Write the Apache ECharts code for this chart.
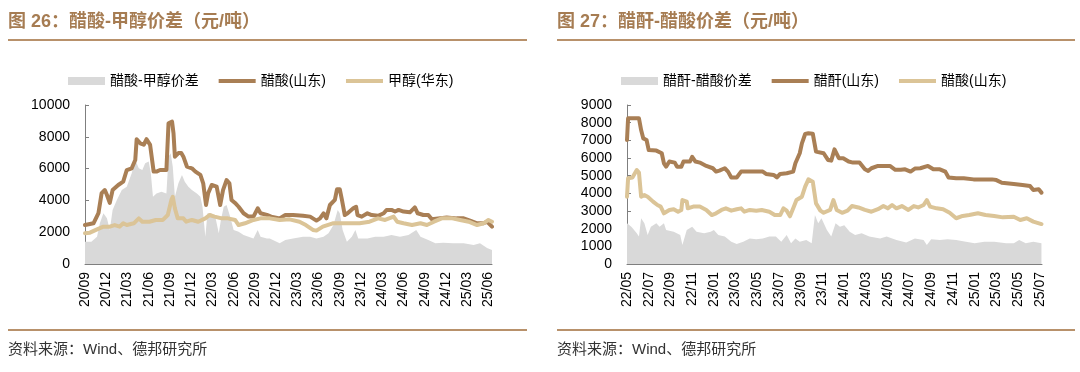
<!DOCTYPE html>
<html><head><meta charset="utf-8">
<script src="https://cdn.jsdelivr.net/npm/echarts@6/dist/echarts.min.js"></script>
<style>html,body{margin:0;padding:0;background:#fff}#c{width:1080px;height:372px}</style>
</head><body><div id="c"></div>
<script>
// ---------- Left chart (图26): x = months since 2020/09 ----------
const leftTickLabels = ['20/09','20/12','21/03','21/06','21/09','21/12','22/03','22/06','22/09','22/12','23/03','23/06','23/09','23/12','24/03','24/06','24/09','24/12','25/03','25/06'];
const leftAcidX = [0,1.2,1.9,2.35,2.8,3.1,3.5,3.9,4.7,5.4,5.9,6.6,7.1,7.3,7.8,8.3,8.7,9.2,9.7,10.1,10.6,11.5,11.8,12.3,12.5,12.7,13.2,13.6,13.9,14.4,15.1,15.6,16.3,16.7,17.1,17.4,17.9,18.6,19.1,19.5,20.0,20.4,20.7,21.2,21.7,22.4,23.1,23.8,24.4,24.8,25.7,26.3,27.5,28.3,29.4,30.8,31.8,32.7,33.2,33.7,34.1,34.6,35.3,35.6,36.0,36.3,36.7,37.1,37.9,38.3,38.5,39.1,39.9,40.5,41.4,42.2,42.6,43.3,43.8,44.3,45.0,45.9,46.6,47.0,47.8,48.5,49.0,49.9,51.1,52.5,53.5,54.4,55.4,56.3,56.8,57.5];
const leftAcid = [2450,2560,3200,4460,4650,4340,3840,4650,4970,5180,5910,6020,6540,7850,7590,7500,7850,7490,5810,5810,5910,5910,8850,8950,8240,6750,6980,6980,6750,6120,6020,5810,5600,5075,3710,4450,4970,4860,3710,4650,5280,5075,4030,3840,3600,3190,2980,2980,3500,3190,3090,2980,2870,3080,3080,3030,2980,2730,2870,3190,2870,3710,4030,4700,4700,4030,3080,3190,3500,3600,3080,2980,3190,3080,3030,3190,3400,3400,3300,3400,3300,3250,3560,3190,3080,3080,2810,2870,2930,2870,2870,2730,2560,2560,2660,2350];
const leftMethX = [0,0.7,1.7,2.6,3.5,4.2,4.9,5.4,5.9,6.9,7.6,8.1,9.1,10.0,11.0,11.7,12.2,12.4,12.7,13.1,13.9,14.3,15.1,16.0,17.0,17.6,18.3,19.3,20.2,21.2,21.7,22.6,23.8,24.8,26.1,27.5,28.9,30.3,31.2,32.2,32.7,33.6,35.0,36.0,37.4,38.8,40.2,41.4,42.4,43.6,44.1,45.0,46.2,47.4,48.3,49.3,50.4,51.9,53.0,54.2,55.4,56.3,57.0,57.5];
const leftMeth = [1930,1970,2180,2350,2350,2450,2350,2560,2450,2560,2870,2660,2660,2770,2770,3080,4030,4230,3500,2870,2870,2660,2770,2660,2870,3080,2980,2870,2870,2770,2450,2560,2770,2870,2870,2770,2810,2660,2450,2140,2100,2350,2560,2560,2560,2560,2660,2870,2770,2980,2660,2560,2450,2560,2450,2660,2870,2870,2770,2660,2450,2560,2770,2660];
const leftSpreadX = [0,0.9,1.7,2.1,2.6,3.1,3.5,3.9,4.5,5.2,5.9,6.6,7.1,7.6,8.1,8.5,9.0,9.3,9.6,10.1,10.8,11.5,11.8,12.1,12.4,12.7,13.2,13.7,14.1,14.6,15.1,15.8,16.3,16.6,17.0,17.3,17.8,18.4,18.9,19.2,19.6,20.0,20.5,21.0,21.7,22.4,23.1,23.8,24.4,24.8,25.7,26.1,27.5,28.3,29.4,30.8,31.8,32.7,33.7,34.4,35.1,35.7,36.0,36.4,37.0,37.7,38.2,38.6,39.9,41.0,42.2,43.3,44.5,45.7,46.8,47.4,48.5,49.5,50.6,52.0,53.5,54.9,55.8,56.8,57.5];
const leftSpread = [1400,1400,1720,2560,3190,2870,2140,3400,4030,4650,4860,5700,6540,6020,5910,6330,6440,5700,4230,4440,4550,4440,6750,6960,6120,4230,5075,5600,5180,4860,4650,4440,4230,3600,1720,3190,3190,2980,1930,2770,3600,3710,2980,2140,2030,1820,1720,1610,2140,1720,1610,1610,1300,1510,1610,1720,1720,1610,1720,1930,2450,3400,3190,2140,1400,1720,2140,1610,1610,1720,1720,1820,1720,1820,2140,1720,1510,1300,1340,1300,1300,1190,1300,1000,880];

// ---------- Right chart (图27): x = months since 2022/05 ----------
const rightTickLabels = ['22/05','22/07','22/09','22/11','23/01','23/03','23/05','23/07','23/09','23/11','24/01','24/03','24/05','24/07','24/09','24/11','25/01','25/03','25/05','25/07'];
const rightAnhX = [0,0.1,1.1,1.3,1.5,1.8,2.0,2.7,3.2,3.4,3.6,3.9,4.4,4.6,5.0,5.2,5.8,6.0,6.3,6.7,7.3,7.9,8.2,8.5,9.0,9.3,9.6,10.1,10.5,11.6,12.5,12.8,13.5,13.8,14.1,14.7,15.3,15.5,15.9,16.1,16.4,16.7,17.1,17.4,18.1,18.5,18.8,19.1,19.5,19.9,20.4,20.8,21.4,21.9,22.2,22.5,23.1,24.2,24.7,25.2,25.6,26.1,26.5,27.0,27.7,28.2,28.8,29.3,29.6,30.3,31.0,31.9,33.6,34.0,34.5,35.6,36.4,37.1,37.4,37.9,38.15];
const rightAnh = [7020,8250,8250,7580,7110,7020,6450,6420,6270,5700,5510,5800,5740,5510,5510,5800,5800,6070,5800,5740,5550,5420,5230,5290,5420,5230,4900,4900,5230,5230,5230,5100,5040,4900,5100,5140,5230,5700,6270,6830,7360,7400,7380,6360,6270,5890,5850,6490,5990,5990,5800,5740,5740,5360,5270,5420,5550,5550,5330,5330,5360,5230,5400,5420,5550,5360,5360,5230,4900,4850,4850,4790,4790,4750,4600,4530,4470,4410,4190,4230,4040];
const rightAcidX = [0,0.1,0.5,0.9,1.1,1.3,1.6,1.9,2.4,2.8,3.1,3.4,3.9,4.3,4.7,5.0,5.1,5.5,5.6,6.1,6.7,7.3,7.8,8.2,8.7,9.1,9.6,10.1,10.5,10.8,11.3,11.9,12.4,13.1,13.6,14.1,14.4,14.7,15.0,15.3,15.6,16.1,16.4,16.7,17.1,17.4,17.8,18.1,18.7,19.0,19.3,19.8,20.3,20.7,21.3,21.9,22.5,23.1,23.6,24.0,24.4,24.8,25.3,25.9,26.4,26.8,27.3,27.6,27.9,28.5,29.1,29.7,30.3,30.9,31.5,32.3,33.0,33.8,34.6,35.6,36.2,36.8,37.4,38.15];
const rightAcid = [3810,4850,4900,5320,5180,3810,3900,3810,3530,3340,3250,2870,3060,3100,2960,3060,3620,3530,3150,3250,3250,3060,2770,2870,3060,3150,3020,3100,3150,2960,3060,3020,3060,2960,2770,2770,3150,3020,2700,3150,3620,3810,4380,4790,4660,3430,3020,2900,3060,3620,3060,2900,3020,3280,3200,3060,2960,3100,3280,3150,3340,3150,3280,3060,3280,3200,3340,3620,3250,3150,3100,2900,2590,2720,2770,2870,2770,2720,2640,2680,2490,2590,2400,2260];
const rightSpreadX = [0,0.4,0.9,1.1,1.3,1.6,1.9,2.2,2.7,3.0,3.4,3.6,4.3,4.9,5.1,5.5,6.0,6.4,7.1,7.7,8.0,8.4,9.0,9.6,10.1,10.7,11.3,11.9,12.5,13.1,13.7,14.2,14.7,15.1,15.5,15.9,16.5,17.0,17.3,17.6,17.9,18.4,18.8,19.2,19.6,20.0,20.5,21.0,21.6,22.3,23.3,23.9,24.8,25.7,26.5,27.3,27.6,28.0,28.8,29.5,30.3,31.2,32.0,32.9,33.8,34.9,35.6,36.1,36.7,37.4,38.15];
const rightSpread = [2300,2110,1740,1550,2590,2300,1640,2110,2300,2110,2300,1920,1830,1640,1080,1920,2110,1830,1740,1830,1920,1640,1550,1260,1130,1260,1450,1400,1450,1550,1550,1260,1640,1170,1450,1260,1360,1170,2770,2300,2590,1920,1550,2300,2110,2200,1830,1640,1740,1550,1450,1550,1360,1210,1450,1360,1080,1400,1360,1400,1360,1260,1170,1260,1260,1170,1170,1360,1170,1260,1170];

const BROWN = '#a97f55', TAN = '#dbc497', GRAY = '#d9d9d9', TITLE = '#a67c52', RULE = '#b8916b';
const zip = (xs, ys) => xs.map((x, i) => [x, ys[i]]);
const leftTickPos = leftTickLabels.map((_, i) => i * 3);
const rightTickPos = rightTickLabels.map((_, i) => i * 2);
const CJK = '"Liberation Sans","Noto Sans CJK SC",sans-serif';
// thin bar centred in an 8px-tall legend box (hairline slivers fix the bounding box)
const LINE_ICON = 'path://M0,0L37,0L37,0.01L0,0.01Z M0,2L37,2L37,6L0,6Z M0,7.99L37,7.99L37,8L0,8Z';

function xAxisCfg(grid, max, pos, labels, step) {
  return {
    gridIndex: grid, type: 'value', min: 0, max: max,
    axisLine: { show: true, lineStyle: { color: '#7f7f7f', width: 1 } },
    axisTick: { show: true, inside: true, length: 4, customValues: pos, lineStyle: { color: '#7f7f7f' } },
    axisLabel: { rotate: 90, customValues: pos, formatter: v => labels[Math.round(v / step)] || '',
      fontSize: 14, color: '#000', margin: 8, fontFamily: '"Liberation Sans",Arial,sans-serif' },
    splitLine: { show: false }
  };
}
function yAxisCfg(grid, max, interval) {
  return {
    gridIndex: grid, type: 'value', min: 0, max: max, interval: interval,
    axisLine: { show: true, lineStyle: { color: '#7f7f7f', width: 1 } },
    axisTick: { show: true, inside: true, length: 4, lineStyle: { color: '#7f7f7f' } },
    axisLabel: { fontSize: 14, color: '#000', margin: 15, formatter: v => String(v),
      fontFamily: '"Liberation Sans",Arial,sans-serif' },
    splitLine: { show: false }
  };
}
function areaSeries(name, xi, data) {
  return { type: 'line', name: name, xAxisIndex: xi, yAxisIndex: xi, data: data, symbol: 'none',
    lineStyle: { width: 0, color: GRAY }, itemStyle: { color: GRAY }, areaStyle: { color: GRAY, opacity: 1 }, z: 1 };
}
function lineSeries(name, xi, data, color, z) {
  return { type: 'line', name: name, xAxisIndex: xi, yAxisIndex: xi, data: data, symbol: 'none',
    lineStyle: { width: 4, color: color, join: 'round', cap: 'round' }, itemStyle: { color: color }, z: z };
}
function legendCfg(left, items) {
  return {
    left: left, top: 69, itemWidth: 37, itemHeight: 8, itemGap: 20, selectedMode: false,
    textStyle: { fontSize: 14, color: '#000', fontFamily: CJK },
    data: items.map(it => it.area
      ? { name: it.name, icon: 'rect', itemStyle: { color: GRAY } }
      : { name: it.name, icon: LINE_ICON, itemStyle: { color: it.color, borderWidth: 0 } })
  };
}
function txt(x, y, s, font, fill) {
  return { type: 'text', x: x, y: y, style: { text: s, font: font, fill: fill, verticalAlign: 'middle' } };
}
function rule(x1, x2, y) {
  return { type: 'line', shape: { x1: x1, y1: y, x2: x2, y2: y }, style: { stroke: RULE, lineWidth: 2 } };
}

const chart = echarts.init(document.getElementById('c'));
chart.setOption({
  animation: false,
  backgroundColor: '#fff',
  grid: [
    { left: 85, top: 105, width: 407, height: 159 },
    { left: 627, top: 105, width: 415, height: 159 }
  ],
  xAxis: [
    xAxisCfg(0, 57.5, leftTickPos, leftTickLabels, 3),
    xAxisCfg(1, 38.2, rightTickPos, rightTickLabels, 2)
  ],
  yAxis: [ yAxisCfg(0, 10000, 2000), yAxisCfg(1, 9000, 1000) ],
  legend: [
    legendCfg(63, [{ name: '醋酸-甲醇价差', area: true }, { name: '醋酸(山东)', color: BROWN }, { name: '甲醇(华东)', color: TAN }]),
    legendCfg(616, [{ name: '醋酐-醋酸价差', area: true }, { name: '醋酐(山东)', color: BROWN }, { name: '醋酸(山东)', color: TAN }])
  ],
  series: [
    areaSeries('醋酸-甲醇价差', 0, zip(leftSpreadX, leftSpread)),
    lineSeries('醋酸(山东)', 0, zip(leftAcidX, leftAcid), BROWN, 3),
    lineSeries('甲醇(华东)', 0, zip(leftMethX, leftMeth), TAN, 4),
    areaSeries('醋酐-醋酸价差', 1, zip(rightSpreadX, rightSpread)),
    lineSeries('醋酐(山东)', 1, zip(rightAnhX, rightAnh), BROWN, 3),
    lineSeries('醋酸(山东)', 1, zip(rightAcidX, rightAcid), TAN, 4)
  ],
  graphic: [
    txt(8, 22, '图 26：醋酸-甲醇价差（元/吨）', 'bold 18px ' + CJK, TITLE),
    txt(557, 22, '图 27：醋酐-醋酸价差（元/吨）', 'bold 18px ' + CJK, TITLE),
    rule(8, 527, 40), rule(557, 1075, 40),
    rule(8, 527, 330), rule(557, 1075, 330),
    txt(8, 350, '资料来源：Wind、德邦研究所', '15px ' + CJK, '#333'),
    txt(557, 350, '资料来源：Wind、德邦研究所', '15px ' + CJK, '#333')
  ]
});
</script></body></html>
